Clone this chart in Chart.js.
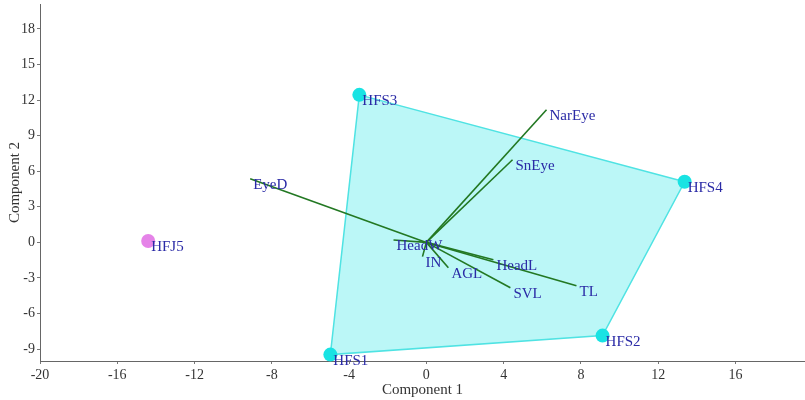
<!DOCTYPE html>
<html><head><meta charset="utf-8">
<script src="https://cdn.jsdelivr.net/npm/chart.js@4/dist/chart.umd.min.js"></script>
<style>html,body{margin:0;padding:0;background:#fff;overflow:hidden}</style>
</head><body><canvas id="c" width="805" height="400"></canvas>
<script>
const xTicks = [-20,-16,-12,-8,-4,0,4,8,12,16];
const yTicks = [-9,-6,-3,0,3,6,9,12,15,18];
const groupNames = ['HFS1','HFS2','HFS3','HFS4'];
const groupX = [-4.97, 9.12, -3.47, 13.37];
const groupY = [-9.46, -7.86, 12.44, 5.11];
const otherNames = ['HFJ5'];
const otherX = [-14.4];
const otherY = [0.12];
const hullOrder = ['HFS3','HFS4','HFS2','HFS1','HFS3'];
const varNames = ['NarEye','SnEye','EyeD','HeadW','IN','AGL','SVL','HeadL','TL'];
const varX = [6.22, 4.46, -9.12, -1.7, -0.2, 1.14, 4.35, 3.47, 7.77];
const varY = [11.18, 6.97, 5.37, 0.2, -1.2, -2.13, -3.82, -1.46, -3.65];

const FONT = "'Liberation Serif','Times New Roman',serif";
const hull = hullOrder.map(n => { const i = groupNames.indexOf(n); return {x: groupX[i], y: groupY[i]}; });

const datasets = [];
datasets.push({data: hull, showLine: true, fill: 'shape', backgroundColor: 'rgba(120,240,240,0.5)', borderColor: '#4fe3e3', borderWidth: 1.5, pointRadius: 0, clip: false, order: 3});
varNames.forEach((n, i) => {
  datasets.push({data: [{x:0,y:0},{x:varX[i],y:varY[i]}], showLine: true, borderColor: '#237823', borderWidth: 1.6, pointRadius: 0, fill: false, clip: false, order: 2});
});
datasets.push({data: groupNames.map((n,i)=>({x:groupX[i],y:groupY[i]})), pointRadius: 7, pointBackgroundColor: '#19e3e3', pointBorderWidth: 0, clip: false, order: 1});
datasets.push({data: otherNames.map((n,i)=>({x:otherX[i],y:otherY[i]})), pointRadius: 7, pointBackgroundColor: '#e583e8', pointBorderWidth: 0, clip: false, order: 1});

const labelPlugin = {
  id: 'labels',
  afterDatasetsDraw(chart) {
    const ctx = chart.ctx, xs = chart.scales.x, ys = chart.scales.y;
    ctx.save();
    ctx.font = '15px ' + FONT;
    ctx.fillStyle = '#2a2aa6';
    ctx.textBaseline = 'middle';
    ctx.textAlign = 'left';
    const put = (n, x, y) => ctx.fillText(n, xs.getPixelForValue(x) + 3, ys.getPixelForValue(y) + 6);
    groupNames.forEach((n,i)=>put(n, groupX[i], groupY[i]));
    otherNames.forEach((n,i)=>put(n, otherX[i], otherY[i]));
    varNames.forEach((n,i)=>put(n, varX[i], varY[i]));
    ctx.restore();
  }
};

new Chart(document.getElementById('c'), {
  type: 'scatter',
  data: {datasets},
  plugins: [labelPlugin],
  options: {
    responsive: false, animation: false, maintainAspectRatio: false,
    layout: {autoPadding: false, padding: {top: 4, right: 0, left: 0, bottom: 0}},
    plugins: {legend: {display: false}, tooltip: {enabled: false}},
    scales: {
      x: {
        type: 'linear', min: -20, max: 19.6,
        afterBuildTicks: s => { s.ticks = xTicks.map(v => ({value: v})); },
        afterFit: s => { s.height = 39; s.paddingLeft = 0; s.paddingRight = 0; },
        grid: {drawOnChartArea: false, drawTicks: true, tickLength: 3, color: '#777'},
        border: {display: true, color: '#666', width: 1},
        ticks: {font: {family: FONT, size: 14}, color: '#333', padding: 3, maxRotation: 0},
        title: {display: true, text: 'Component 1', font: {family: FONT, size: 15}, color: '#333', padding: {top: 0, bottom: 1}}
      },
      y: {
        type: 'linear', min: -10, max: 20.1,
        afterBuildTicks: s => { s.ticks = yTicks.map(v => ({value: v})); },
        afterFit: s => { s.width = 40; s.paddingTop = 0; s.paddingBottom = 0; },
        grid: {drawOnChartArea: false, drawTicks: true, tickLength: 3, color: '#777'},
        border: {display: true, color: '#666', width: 1},
        ticks: {font: {family: FONT, size: 14}, color: '#333', padding: 2},
        title: {display: true, text: 'Component 2', font: {family: FONT, size: 15}, color: '#333', padding: {top: 6, bottom: 0}}
      }
    }
  }
});
</script></body></html>
